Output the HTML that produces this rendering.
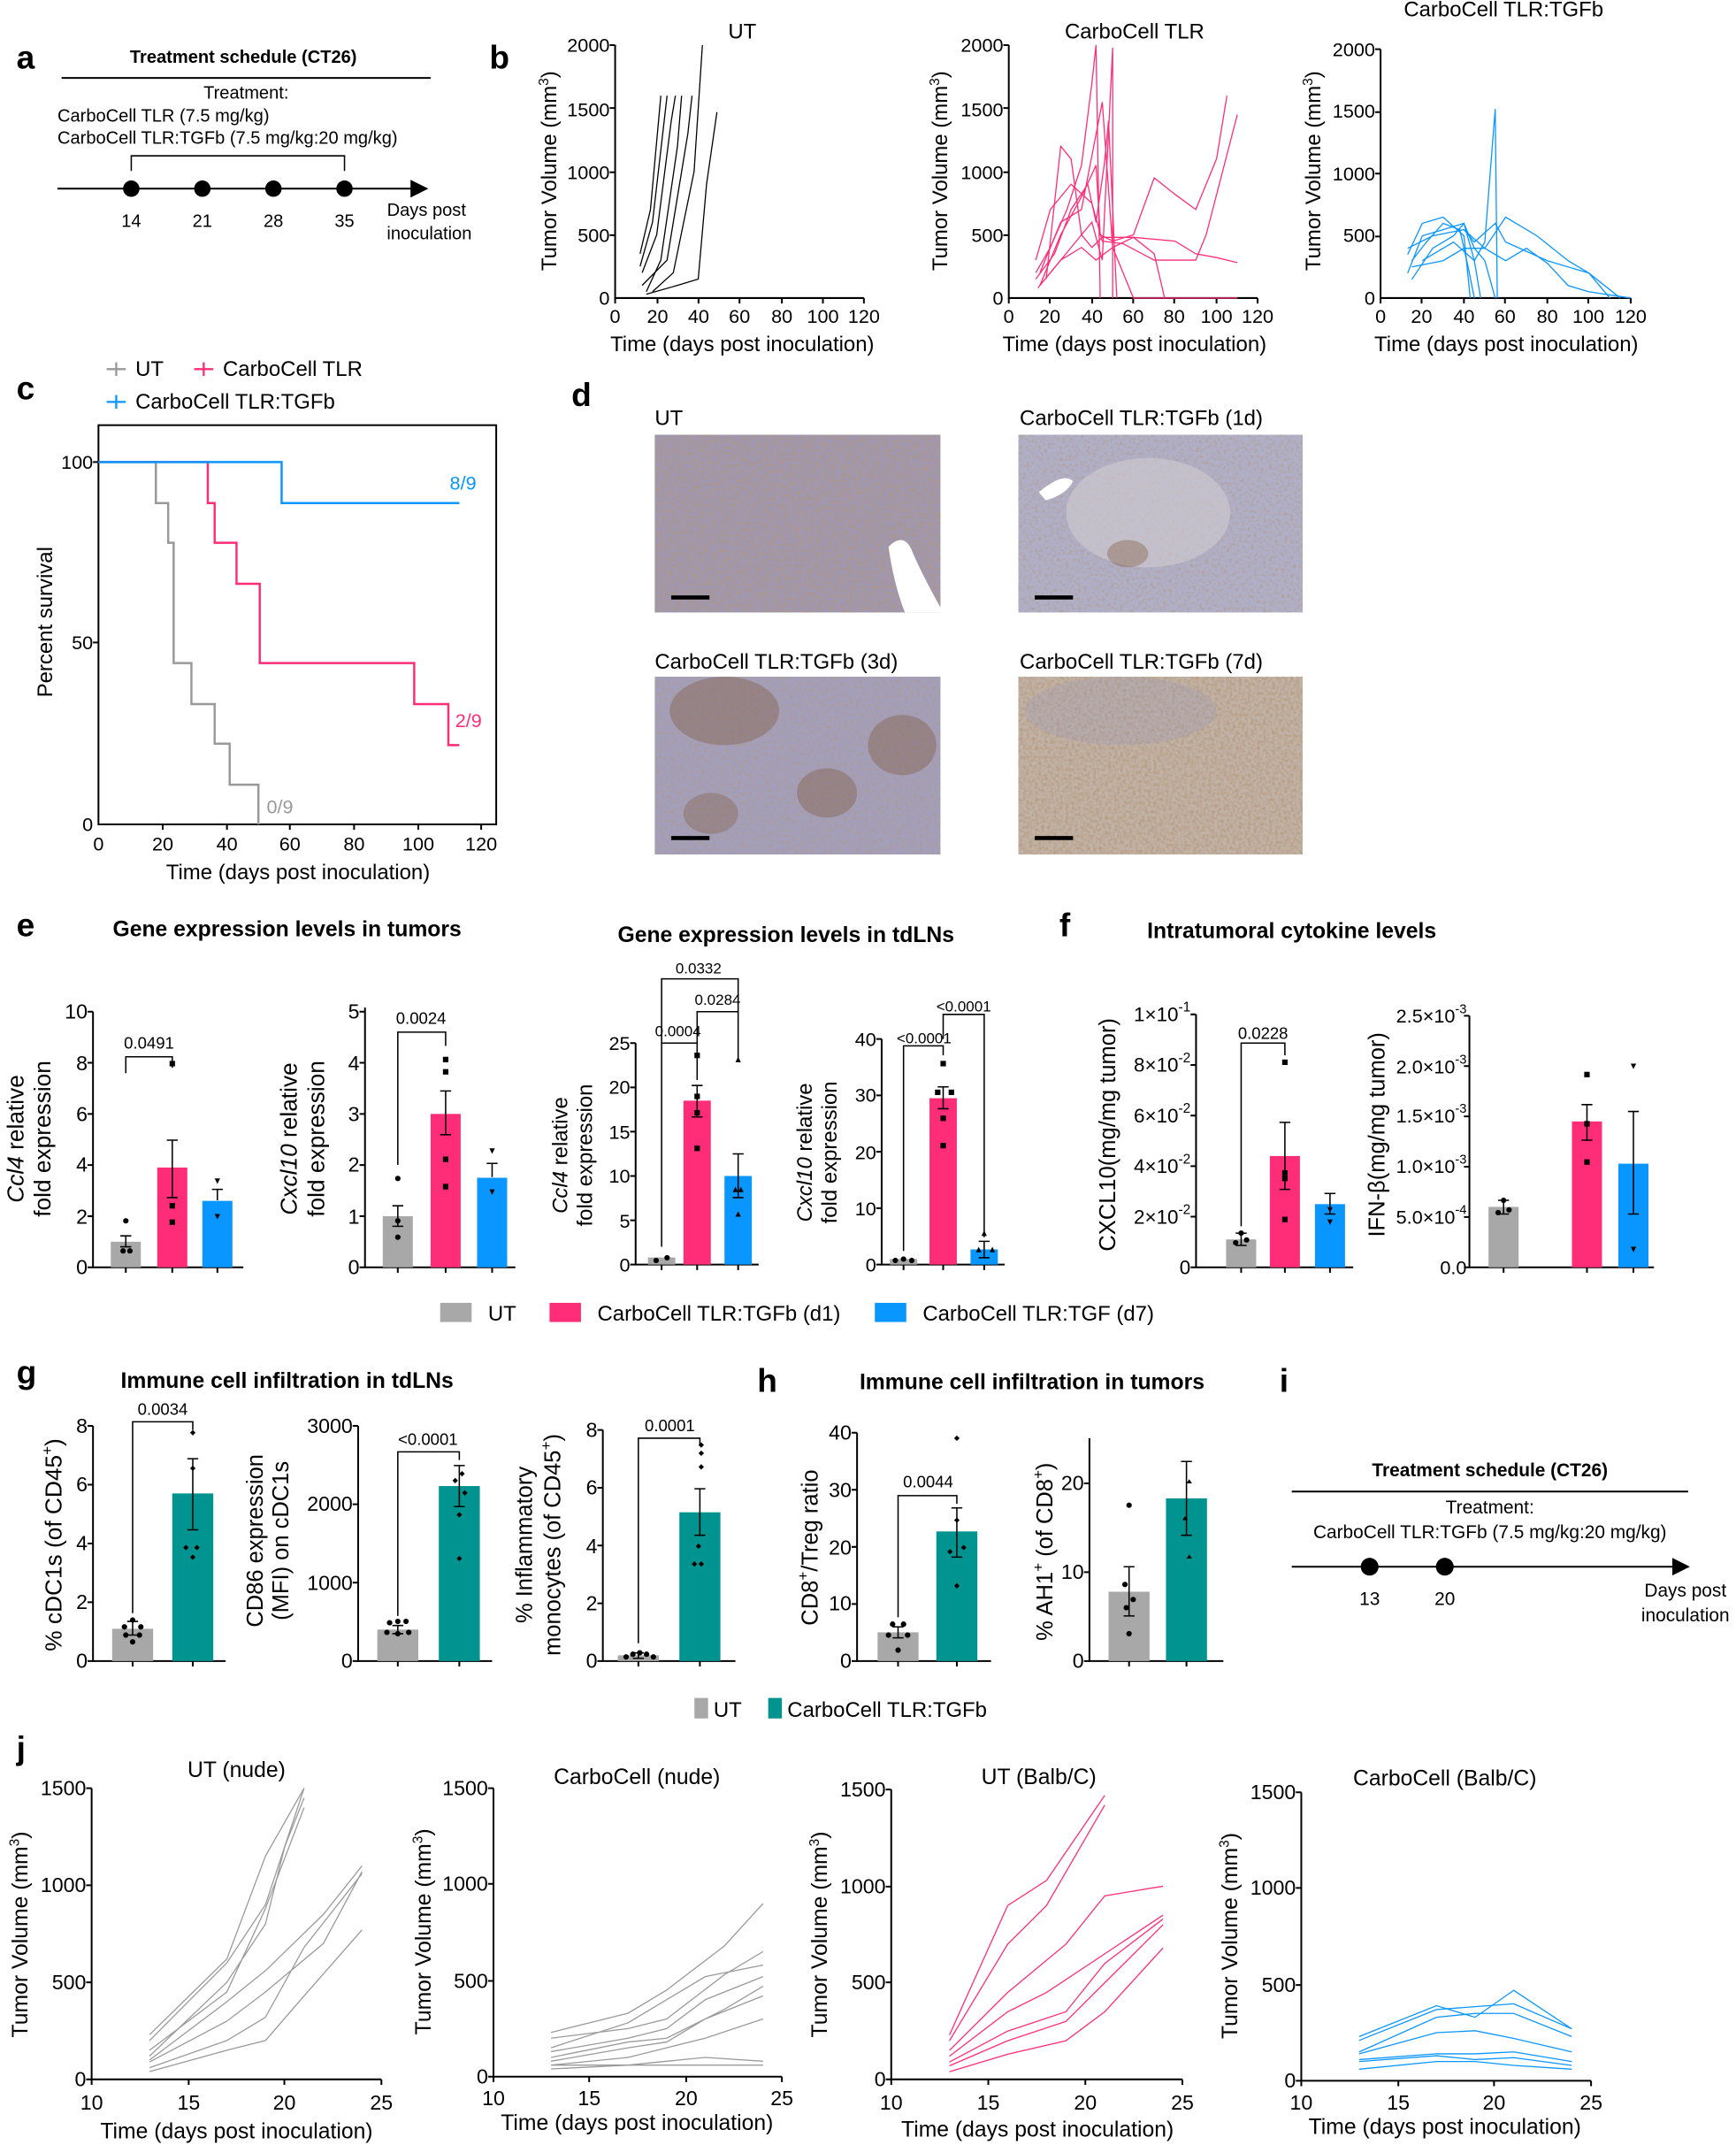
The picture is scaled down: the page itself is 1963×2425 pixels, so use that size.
<!DOCTYPE html>
<html><head><meta charset="utf-8"><style>
html,body{margin:0;padding:0;background:#fff}
svg{display:block}
text{font-family:"Liberation Sans",sans-serif;fill:#000}
.t{font-size:14px}.al{font-size:15.5px}.b{font-weight:bold}.L{font-size:24px;font-weight:bold}
.ax{stroke:#000;stroke-width:1.3;fill:none}
.nl{fill:none;vector-effect:non-scaling-stroke;stroke-width:1.3}
.br{stroke:#000;stroke-width:1;fill:none}
</style></head><body>
<svg width="1963" height="2425" viewBox="0 0 1270 1569" xmlns="http://www.w3.org/2000/svg">
<defs>
<marker id="ar" markerWidth="10" markerHeight="10" refX="9" refY="5" orient="auto"><path d="M0,0 L10,5 L0,10z" fill="#000"/></marker>
<filter id="tx" x="0" y="0" width="1" height="1"><feTurbulence type="fractalNoise" baseFrequency="0.45" numOctaves="3" seed="3"/><feColorMatrix values="0 0 0 0 0.45  0 0 0 0 0.3  0 0 0 0 0.18  1.6 0 0 0 -0.55"/><feComposite in2="SourceGraphic" operator="in"/></filter>
<filter id="tx2" x="0" y="0" width="1" height="1"><feTurbulence type="fractalNoise" baseFrequency="0.45" numOctaves="3" seed="7"/><feColorMatrix values="0 0 0 0 0.45  0 0 0 0 0.3  0 0 0 0 0.18  1.6 0 0 0 -0.75"/><feComposite in2="SourceGraphic" operator="in"/></filter>
</defs>

<!-- a -->
<text x="12" y="50" class="L">a</text>
<text x="178" y="46" class="b" font-size="13" text-anchor="middle">Treatment schedule (CT26)</text>
<line x1="45" y1="57" x2="315" y2="57" class="ax"/>
<text x="180" y="72" font-size="13" text-anchor="middle">Treatment:</text>
<text x="42" y="89" font-size="13">CarboCell TLR (7.5 mg/kg)</text>
<text x="42" y="105" font-size="13">CarboCell TLR:TGFb (7.5 mg/kg:20 mg/kg)</text>
<path d="M96,125 V114 H252 V125" class="br"/>
<line x1="42" y1="138" x2="312" y2="138" class="ax" marker-end="url(#ar)"/>
<circle cx="96" cy="138" r="6"/><circle cx="148" cy="138" r="6"/><circle cx="200" cy="138" r="6"/><circle cx="252" cy="138" r="6"/>
<g font-size="13" text-anchor="middle"><text x="96" y="166">14</text><text x="148" y="166">21</text><text x="200" y="166">28</text><text x="252" y="166">35</text>
<text x="312" y="158">Days post</text><text x="314" y="175">inoculation</text></g>

<!-- b -->
<text x="358" y="50" class="L">b</text>
<g class="t">
<path d="M450,33 V218 H632" class="ax"/>
<g text-anchor="end"><text x="446" y="223">0</text><text x="446" y="177">500</text><text x="446" y="131">1000</text><text x="446" y="85">1500</text><text x="446" y="38">2000</text></g>
<g text-anchor="middle"><text x="450" y="236">0</text><text x="481" y="236">20</text><text x="511" y="236">40</text><text x="541" y="236">60</text><text x="572" y="236">80</text><text x="602" y="236">100</text><text x="632" y="236">120</text></g>
<path d="M450,218v4M481,218v4M511,218v4M541,218v4M572,218v4M602,218v4M632,218v4M450,33h-4M450,79h-4M450,126h-4M450,172h-4" class="ax"/>
<path d="M738,33 V218 H920" class="ax"/>
<g text-anchor="end"><text x="734" y="223">0</text><text x="734" y="177">500</text><text x="734" y="131">1000</text><text x="734" y="85">1500</text><text x="734" y="38">2000</text></g>
<g text-anchor="middle"><text x="738" y="236">0</text><text x="768" y="236">20</text><text x="799" y="236">40</text><text x="829" y="236">60</text><text x="859" y="236">80</text><text x="890" y="236">100</text><text x="920" y="236">120</text></g>
<path d="M738,218v4M768,218v4M799,218v4M829,218v4M859,218v4M890,218v4M920,218v4M738,33h-4M738,79h-4M738,126h-4M738,172h-4" class="ax"/>
<path d="M1010,36 V218 H1193" class="ax"/>
<g text-anchor="end"><text x="1006" y="223">0</text><text x="1006" y="177">500</text><text x="1006" y="132">1000</text><text x="1006" y="86">1500</text><text x="1006" y="41">2000</text></g>
<g text-anchor="middle"><text x="1010" y="236">0</text><text x="1040" y="236">20</text><text x="1071" y="236">40</text><text x="1101" y="236">60</text><text x="1132" y="236">80</text><text x="1162" y="236">100</text><text x="1193" y="236">120</text></g>
<path d="M1010,218v4M1040,218v4M1071,218v4M1101,218v4M1132,218v4M1162,218v4M1193,218v4M1010,36h-4M1010,82h-4M1010,127h-4M1010,173h-4" class="ax"/>
</g>
<g class="al" text-anchor="middle">
<text x="543" y="28">UT</text><text x="830" y="28">CarboCell TLR</text><text x="1100" y="12">CarboCell TLR:TGFb</text>
<text x="543" y="257">Time (days post inoculation)</text><text x="830" y="257">Time (days post inoculation)</text><text x="1102" y="257">Time (days post inoculation)</text>
<text transform="translate(407,125) rotate(-90)">Tumor Volume (mm<tspan font-size="10" dy="-6">3</tspan><tspan dy="6">)</tspan></text>
<text transform="translate(693,125) rotate(-90)">Tumor Volume (mm<tspan font-size="10" dy="-6">3</tspan><tspan dy="6">)</tspan></text>
<text transform="translate(966,125) rotate(-90)">Tumor Volume (mm<tspan font-size="10" dy="-6">3</tspan><tspan dy="6">)</tspan></text>
</g>
<g transform="translate(450,218) scale(1.52,-0.0925)" stroke="#000">
<polyline class="nl" points="12,350 17,700 22,1600"/>
<polyline class="nl" points="12,250 18,600 25,1600"/>
<polyline class="nl" points="13,200 20,500 27,1400 29,1600"/>
<polyline class="nl" points="15,50 22,300 30,1200 32,1600"/>
<polyline class="nl" points="13,100 25,300 35,1300 37,1600"/>
<polyline class="nl" points="18,50 28,200 38,1000 42,2000"/>
<polyline class="nl" points="15,30 30,100 40,150 44,900 49,1470"/>
</g>
<g transform="translate(738,218) scale(1.52,-0.0925)" stroke="#ff2d78">
<polyline class="nl" points="13,200 20,400 28,700 35,1050 40,1700 42,2000 44,0"/>
<polyline class="nl" points="13,150 22,350 30,700 38,900 42,600 46,1060 48,1400 52,0"/>
<polyline class="nl" points="15,100 25,500 35,800 42,1050 44,500 50,450 60,500 70,950 80,820 90,700 100,1100 105,1600"/>
<polyline class="nl" points="15,200 25,600 35,700 45,1550 50,400 60,480 80,450 90,350 100,320 110,280"/>
<polyline class="nl" points="13,300 20,700 30,900 40,750 45,450 55,430 70,300 90,300 95,500 110,1450"/>
<polyline class="nl" points="15,100 30,400 40,600 45,300 50,1980 50,0"/>
<polyline class="nl" points="18,150 25,1200 30,1100 35,500 40,400 45,480 60,480 70,350 75,0"/>
<polyline class="nl" points="14,80 25,300 35,400 42,300 50,400 60,0 110,0"/>
</g>
<g transform="translate(1010,218) scale(1.525,-0.091)" stroke="#0a96ff">
<polyline class="nl" points="13,200 20,500 30,550 40,600 45,300 48,0"/>
<polyline class="nl" points="15,300 22,450 30,600 38,550 42,250 45,0"/>
<polyline class="nl" points="13,350 20,600 30,650 40,500 43,0"/>
<polyline class="nl" points="15,150 25,400 35,500 40,600 45,400 50,300 55,0"/>
<polyline class="nl" points="13,400 25,500 40,550 45,450 55,600 60,450 80,300 100,200 110,0"/>
<polyline class="nl" points="20,300 35,450 45,300 50,450 55,1520 56,0"/>
<polyline class="nl" points="15,250 30,300 40,400 50,400 60,300 70,400 80,280 90,100 100,50 120,0"/>
<polyline class="nl" points="40,550 50,400 60,650 75,500 90,300 100,200 115,0"/>
</g>

<!-- c -->
<text x="12" y="292" class="L">c</text>
<g class="al">
<path d="M78,270 h14 M85,265 v10" stroke="#999" stroke-width="1.5"/><text x="99" y="275">UT</text>
<path d="M142,270 h14 M149,265 v10" stroke="#ff2d78" stroke-width="1.5"/><text x="163" y="275">CarboCell TLR</text>
<path d="M78,294 h14 M85,289 v10" stroke="#0a96ff" stroke-width="1.5"/><text x="99" y="299">CarboCell TLR:TGFb</text>
</g>
<rect x="72" y="311" width="291" height="292" class="ax"/>
<g class="t" text-anchor="end"><text x="68" y="343">100</text><text x="68" y="475">50</text><text x="68" y="608">0</text></g>
<g class="t" text-anchor="middle"><text x="72" y="622">0</text><text x="119" y="622">20</text><text x="166" y="622">40</text><text x="212" y="622">60</text><text x="259" y="622">80</text><text x="306" y="622">100</text><text x="352" y="622">120</text></g>
<path d="M72,338h-4M72,470h-4M119,603v4M166,603v4M212,603v4M259,603v4M306,603v4M352,603v4" class="ax"/>
<text x="218" y="643" class="al" text-anchor="middle">Time (days post inoculation)</text>
<text transform="translate(38,455) rotate(-90)" class="al" text-anchor="middle">Percent survival</text>
<polyline fill="none" stroke="#999" stroke-width="1.6" points="72,338 114,338 114,368 123,368 123,397 127,397 127,485 140,485 140,515 157,515 157,544 168,544 168,574 189,574 189,603"/>
<polyline fill="none" stroke="#ff2d78" stroke-width="1.6" points="72,338 152,338 152,368 157,368 157,397 173,397 173,427 190,427 190,485 303,485 303,515 328,515 328,545 336,545"/>
<polyline fill="none" stroke="#0a96ff" stroke-width="1.6" points="72,338 206,338 206,368 336,368"/>
<text x="329" y="358" class="t" style="fill:#0a96ff">8/9</text>
<text x="333" y="532" class="t" style="fill:#ff2d78">2/9</text>
<text x="195" y="595" class="t" style="fill:#999">0/9</text>

<!-- d -->
<text x="418" y="297" class="L">d</text>
<g class="al"><text x="479" y="311">UT</text><text x="746" y="311">CarboCell TLR:TGFb (1d)</text><text x="479" y="489">CarboCell TLR:TGFb (3d)</text><text x="746" y="489">CarboCell TLR:TGFb (7d)</text></g>
<rect x="479" y="318" width="209" height="130" fill="#9e98b6"/><rect x="479" y="318" width="209" height="130" fill="#fff" filter="url(#tx)"/>
<path d="M650,400 q12,-12 18,5 q8,18 22,43 h-28 q-8,-20 -12,-48z" fill="#fff"/>
<rect x="745" y="318" width="208" height="130" fill="#b0afc8"/><rect x="745" y="318" width="208" height="130" fill="#fff" filter="url(#tx2)"/>
<ellipse cx="840" cy="375" rx="60" ry="40" fill="#d0cbd0" opacity="0.6"/><ellipse cx="825" cy="405" rx="15" ry="10" fill="#7a5030" opacity="0.35"/><path d="M760,360 q18,-15 25,-8 q-5,10 -20,14z" fill="#fff"/>
<rect x="479" y="495" width="209" height="130" fill="#a39fbb"/><rect x="479" y="495" width="209" height="130" fill="#fff" filter="url(#tx2)"/>
<ellipse cx="530" cy="520" rx="40" ry="25" fill="#7a5030" opacity="0.35"/><ellipse cx="605" cy="580" rx="22" ry="18" fill="#7a5030" opacity="0.35"/><ellipse cx="660" cy="545" rx="25" ry="22" fill="#7a5030" opacity="0.35"/><ellipse cx="520" cy="595" rx="20" ry="15" fill="#7a5030" opacity="0.3"/>
<rect x="745" y="495" width="208" height="130" fill="#c2b3a8"/><rect x="745" y="495" width="208" height="130" fill="#fff" filter="url(#tx)"/>
<ellipse cx="820" cy="520" rx="70" ry="25" fill="#9c9ab8" opacity="0.3"/>
<path d="M491,437h28M757,437h28M491,613h28M757,613h28" stroke="#000" stroke-width="3"/>

<!-- e -->
<text x="12" y="685" class="L">e</text>
<text x="210" y="685" class="b" font-size="16" text-anchor="middle">Gene expression levels in tumors</text>
<text x="575" y="689" class="b" font-size="16" text-anchor="middle">Gene expression levels in tdLNs</text>
<g class="t">
<path d="M68,740 V927 H178" class="ax"/>
<g text-anchor="end" font-size="15"><text x="64" y="932">0</text><text x="64" y="895">2</text><text x="64" y="857">4</text><text x="64" y="820">6</text><text x="64" y="783">8</text><text x="64" y="745">10</text></g>
<path d="M68,927h-4M68,889.6h-4M68,852.2h-4M68,814.8h-4M68,777.4h-4M68,740h-4M92,927v4M126,927v4M159,927v4" class="ax"/>
<rect x="81" y="908.3" width="22" height="18.7" fill="#a8a8a8"/><rect x="115" y="854" width="22" height="73" fill="#ff2d78"/><rect x="148" y="878.4" width="22" height="48.6" fill="#0a96ff"/>
<path d="M88,904h8M92,904v8M88,912h8M122,834h8M126,834v42M122,876h8M155,870h8M159,870v8" class="br"/>
<g><circle cx="90" cy="915" r="2"/><circle cx="95" cy="915" r="2"/><circle cx="92" cy="893" r="2"/><rect x="124" y="776" width="4" height="4"/><rect x="124" y="880" width="4" height="4"/><rect x="124" y="892" width="4" height="4"/><path d="M157,862l2,4l2,-4zM157,888l2,4l2,-4z"/></g>
<path d="M92,785 V773 H126 V781" class="br"/><text x="109" y="767" font-size="12" text-anchor="middle">0.0491</text>
<text transform="translate(17,833) rotate(-90)" text-anchor="middle" font-size="17"><tspan font-style="italic">Ccl4</tspan> relative</text>
<text transform="translate(37,833) rotate(-90)" text-anchor="middle" font-size="17">fold expression</text>
<path d="M267,737 V927 H377" class="ax"/>
<g text-anchor="end" font-size="15"><text x="263" y="932">0</text><text x="263" y="895">1</text><text x="263" y="857">2</text><text x="263" y="820">3</text><text x="263" y="783">4</text><text x="263" y="745">5</text></g>
<path d="M267,927h-4M267,889.6h-4M267,852.2h-4M267,814.8h-4M267,777.4h-4M267,740h-4M291,927v4M326,927v4M360,927v4" class="ax"/>
<rect x="280" y="889.6" width="22" height="37.4" fill="#a8a8a8"/><rect x="315" y="814.8" width="22" height="112.2" fill="#ff2d78"/><rect x="349" y="861.5" width="22" height="65.5" fill="#0a96ff"/>
<path d="M287,882h8M291,882v15M287,897h8M322,798h8M326,798v32M322,830h8M356,851h8M360,851v10" class="br"/>
<circle cx="291" cy="862" r="2"/><circle cx="291" cy="893" r="2"/><circle cx="291" cy="905" r="2"/><rect x="324" y="773" width="4" height="4"/><rect x="324" y="782" width="4" height="4"/><rect x="324" y="846" width="4" height="4"/><rect x="324" y="866" width="4" height="4"/><path d="M358,840l2,4l2,-4zM358,870l2,4l2,-4z"/>
<path d="M291,852 V755 H326 V765" class="br"/><text x="308" y="749" font-size="12" text-anchor="middle">0.0024</text>
<text transform="translate(217,833) rotate(-90)" text-anchor="middle" font-size="17"><tspan font-style="italic">Cxcl10</tspan> relative</text>
<text transform="translate(237,833) rotate(-90)" text-anchor="middle" font-size="17">fold expression</text>
<path d="M465,763 V925 H555" class="ax"/>
<g text-anchor="end"><text x="461" y="930">0</text><text x="461" y="898">5</text><text x="461" y="865">10</text><text x="461" y="833">15</text><text x="461" y="800">20</text><text x="461" y="768">25</text></g>
<path d="M465,925h-4M465,892.6h-4M465,860.2h-4M465,827.8h-4M465,795.4h-4M465,763h-4M484,925v4M510,925v4M540,925v4" class="ax"/>
<rect x="474" y="919.8" width="20" height="5.2" fill="#a8a8a8"/><rect x="500" y="805.1" width="20" height="119.9" fill="#ff2d78"/><rect x="530" y="860.2" width="20" height="64.8" fill="#0a96ff"/>
<path d="M506,794h8M510,794v23M506,817h8M536,844h8M540,844v32M536,876h8" class="br"/>
<rect x="508" y="770" width="4" height="4"/><rect x="508" y="800" width="4" height="4"/><rect x="508" y="812" width="4" height="4"/><rect x="508" y="838" width="4" height="4"/><path d="M538,777l2,-4l2,4zM536,872l2,-4l2,4zM540,872l2,-4l2,4zM538,890l2,-4l2,4z"/>
<circle cx="480" cy="922" r="2"/><circle cx="488" cy="920" r="2"/>
<path d="M484,912 V763 H510 V770 M510,790 V740 H540 V775 M484,763 V716 H540 V740" class="br"/>
<g font-size="11" text-anchor="middle"><text x="496" y="758">0.0004</text><text x="525" y="735">0.0284</text><text x="511" y="712">0.0332</text></g>
<text transform="translate(415,845) rotate(-90)" text-anchor="middle" font-size="15.5"><tspan font-style="italic">Ccl4</tspan> relative</text>
<text transform="translate(433,845) rotate(-90)" text-anchor="middle" font-size="15.5">fold expression</text>
<path d="M645,760 V925 H735" class="ax"/>
<g text-anchor="end"><text x="641" y="930">0</text><text x="641" y="889">10</text><text x="641" y="848">20</text><text x="641" y="806">30</text><text x="641" y="765">40</text></g>
<path d="M645,925h-4M645,883.75h-4M645,842.5h-4M645,801.25h-4M645,760h-4M661,925v4M690,925v4M720,925v4" class="ax"/>
<rect x="651" y="920.9" width="20" height="4.1" fill="#a8a8a8"/><rect x="680" y="803.3" width="20" height="121.7" fill="#ff2d78"/><rect x="710" y="913.9" width="20" height="11.1" fill="#0a96ff"/>
<path d="M686,795h8M690,795v16M686,811h8M716,908h8M720,908v12M716,920h8" class="br"/>
<circle cx="655" cy="922" r="2"/><circle cx="661" cy="921" r="2"/><circle cx="667" cy="922" r="2"/><rect x="688" y="776" width="4" height="4"/><rect x="684" y="797" width="4" height="4"/><rect x="694" y="797" width="4" height="4"/><rect x="688" y="816" width="4" height="4"/><rect x="688" y="836" width="4" height="4"/><path d="M718,904l2,-4l2,4zM714,916l2,-4l2,4zM724,916l2,-4l2,4z"/>
<path d="M661,915 V765 H690 V772 M690,760 V742 H720 V905" class="br"/>
<g font-size="11" text-anchor="middle"><text x="676" y="763">&lt;0.0001</text><text x="705" y="740">&lt;0.0001</text></g>
<text transform="translate(594,843) rotate(-90)" text-anchor="middle" font-size="15.5"><tspan font-style="italic">Cxcl10</tspan> relative</text>
<text transform="translate(612,843) rotate(-90)" text-anchor="middle" font-size="15.5">fold expression</text>
</g>

<!-- f -->
<text x="775" y="685" class="L">f</text>
<text x="945" y="686" class="b" font-size="16" text-anchor="middle">Intratumoral cytokine levels</text>
<g class="t">
<path d="M875,742 V927 H990" class="ax"/>
<g text-anchor="end" font-size="14.5"><text x="871" y="932">0</text>
<text x="871" y="895">2×10<tspan font-size="10" dy="-7">-2</tspan></text>
<text x="871" y="858">4×10<tspan font-size="10" dy="-7">-2</tspan></text>
<text x="871" y="821">6×10<tspan font-size="10" dy="-7">-2</tspan></text>
<text x="871" y="784">8×10<tspan font-size="10" dy="-7">-2</tspan></text>
<text x="871" y="747">1×10<tspan font-size="10" dy="-7">-1</tspan></text></g>
<path d="M875,927h-4M875,890h-4M875,853h-4M875,816h-4M875,779h-4M875,742h-4M908,927v4M940,927v4M973,927v4" class="ax"/>
<rect x="897" y="906.6" width="22" height="20.4" fill="#a8a8a8"/><rect x="929" y="845.6" width="22" height="81.4" fill="#ff2d78"/><rect x="962" y="880.8" width="22" height="46.2" fill="#0a96ff"/>
<path d="M904,902h8M908,902v9M904,911h8M936,821h8M940,821v49M936,870h8M969,873h8M973,873v15M969,888h8" class="br"/>
<circle cx="908" cy="902" r="2"/><circle cx="904" cy="909" r="2"/><circle cx="912" cy="907" r="2"/><rect x="938" y="775" width="4" height="4"/><rect x="938" y="856" width="4" height="4"/><rect x="938" y="890" width="4" height="4"/><rect x="938" y="860" width="4" height="4"/><path d="M971,883l2,4l2,-4zM971,892l2,4l2,-4z"/>
<path d="M908,897 V763 H940 V772" class="br"/><text x="924" y="760" font-size="12" text-anchor="middle">0.0228</text>
<text transform="translate(816,830) rotate(-90)" text-anchor="middle" font-size="16.5">CXCL10(mg/mg tumor)</text>
<path d="M1075,743 V927 H1210" class="ax"/>
<g text-anchor="end" font-size="14"><text x="1073" y="932">0.0</text>
<text x="1073" y="895">5.0×10<tspan font-size="9.5" dy="-7">-4</tspan></text>
<text x="1073" y="858">1.0×10<tspan font-size="9.5" dy="-7">-3</tspan></text>
<text x="1073" y="821">1.5×10<tspan font-size="9.5" dy="-7">-3</tspan></text>
<text x="1073" y="785">2.0×10<tspan font-size="9.5" dy="-7">-3</tspan></text>
<text x="1073" y="748">2.5×10<tspan font-size="9.5" dy="-7">-3</tspan></text></g>
<path d="M1075,927h-4M1075,890.2h-4M1075,853.4h-4M1075,816.6h-4M1075,779.8h-4M1075,743h-4M1100,927v4M1161,927v4M1195,927v4" class="ax"/>
<rect x="1089" y="882.8" width="22" height="44.2" fill="#a8a8a8"/><rect x="1150" y="820.3" width="22" height="106.7" fill="#ff2d78"/><rect x="1184" y="851.2" width="22" height="75.8" fill="#0a96ff"/>
<path d="M1096,878h8M1100,878v10M1096,888h8M1157,808h8M1161,808v26M1157,834h8M1191,813h8M1195,813v75M1191,888h8" class="br"/>
<circle cx="1100" cy="878" r="2"/><circle cx="1096" cy="887" r="2"/><circle cx="1104" cy="885" r="2"/><rect x="1159" y="784" width="4" height="4"/><rect x="1159" y="820" width="4" height="4"/><rect x="1159" y="848" width="4" height="4"/><path d="M1193,778l2,4l2,-4zM1193,912l2,4l2,-4z"/>
<text transform="translate(1013,830) rotate(-90)" text-anchor="middle" font-size="16.5">IFN-β(mg/mg tumor)</text>
</g>
<g class="al"><rect x="322" y="953" width="23" height="14" fill="#a8a8a8"/><text x="357" y="966">UT</text>
<rect x="402" y="953" width="23" height="14" fill="#ff2d78"/><text x="437" y="966">CarboCell TLR:TGFb (d1)</text>
<rect x="640" y="953" width="23" height="14" fill="#0a96ff"/><text x="675" y="966">CarboCell TLR:TGF (d7)</text></g>

<!-- g -->
<text x="12" y="1012" class="L">g</text>
<text x="210" y="1015" class="b" font-size="16" text-anchor="middle">Immune cell infiltration in tdLNs</text>
<g class="t">
<path d="M68,1043 V1215 H165" class="ax"/>
<g text-anchor="end" font-size="15"><text x="64" y="1220">0</text><text x="64" y="1177">2</text><text x="64" y="1134">4</text><text x="64" y="1091">6</text><text x="64" y="1048">8</text></g>
<path d="M68,1215h-4M68,1172h-4M68,1129h-4M68,1086h-4M68,1043h-4M97,1215v4M141,1215v4" class="ax"/>
<rect x="82" y="1191.4" width="30" height="23.6" fill="#a8a8a8"/><rect x="126" y="1092.4" width="30" height="122.6" fill="#00938f"/>
<path d="M93,1186h8M97,1186v10M93,1196h8M137,1067h8M141,1067v52M137,1119h8" class="br"/>
<circle cx="97" cy="1185" r="2"/><circle cx="91" cy="1190" r="2"/><circle cx="103" cy="1190" r="2"/><circle cx="92" cy="1196" r="2"/><circle cx="102" cy="1196" r="2"/><circle cx="97" cy="1201" r="2"/><path d="M141,1046l2,2l-2,2l-2,-2zM141,1072l2,2l-2,2l-2,-2zM136,1130l2,2l-2,2l-2,-2zM144,1130l2,2l-2,2l-2,-2zM141,1137l2,2l-2,2l-2,-2z"/>
<path d="M97,1180 V1040 H141 V1046" class="br"/><text x="119" y="1035" font-size="12" text-anchor="middle">0.0034</text>
<text transform="translate(45,1130) rotate(-90)" text-anchor="middle" font-size="17">% cDC1s (of CD45<tspan font-size="11" dy="-7">+</tspan><tspan dy="7">)</tspan></text>
<path d="M262,1043 V1215 H360" class="ax"/>
<g text-anchor="end" font-size="15"><text x="258" y="1220">0</text><text x="258" y="1163">1000</text><text x="258" y="1105">2000</text><text x="258" y="1048">3000</text></g>
<path d="M262,1215h-4M262,1157.7h-4M262,1100.3h-4M262,1043h-4M291,1215v4M336,1215v4" class="ax"/>
<rect x="276" y="1192" width="30" height="23" fill="#a8a8a8"/><rect x="321" y="1087" width="30" height="128" fill="#00938f"/>
<path d="M287,1189h8M291,1189v6M287,1195h8M332,1072h8M336,1072v30M332,1102h8" class="br"/>
<circle cx="285" cy="1187" r="2"/><circle cx="291" cy="1186" r="2"/><circle cx="297" cy="1186" r="2"/><circle cx="283" cy="1194" r="2"/><circle cx="291" cy="1195" r="2"/><circle cx="299" cy="1194" r="2"/><path d="M333,1081l2,2l-2,2l-2,-2zM338,1076l2,2l-2,2l-2,-2zM340,1090l2,2l-2,2l-2,-2zM336,1106l2,2l-2,2l-2,-2zM336,1138l2,2l-2,2l-2,-2z"/>
<path d="M291,1182 V1062 H336 V1068" class="br"/><text x="313" y="1057" font-size="12" text-anchor="middle">&lt;0.0001</text>
<text transform="translate(192,1127) rotate(-90)" text-anchor="middle" font-size="16.5">CD86 expression</text>
<text transform="translate(211,1127) rotate(-90)" text-anchor="middle" font-size="16.5">(MFI) on cDC1s</text>
<path d="M441,1046 V1215 H538" class="ax"/>
<g text-anchor="end" font-size="15"><text x="437" y="1220">0</text><text x="437" y="1178">2</text><text x="437" y="1136">4</text><text x="437" y="1093">6</text><text x="437" y="1051">8</text></g>
<path d="M441,1215h-4M441,1172.75h-4M441,1130.5h-4M441,1088.25h-4M441,1046h-4M467,1215v4M512,1215v4" class="ax"/>
<rect x="452" y="1210.8" width="30" height="4.2" fill="#a8a8a8"/><rect x="497" y="1106.2" width="30" height="108.8" fill="#00938f"/>
<path d="M463,1209h8M467,1209v4M463,1213h8M508,1089h8M512,1089v34M508,1123h8" class="br"/>
<circle cx="458" cy="1212" r="2"/><circle cx="463" cy="1210" r="2"/><circle cx="468" cy="1209" r="2"/><circle cx="473" cy="1210" r="2"/><circle cx="478" cy="1212" r="2"/><path d="M513,1055l2,2l-2,2l-2,-2zM513,1061l2,2l-2,2l-2,-2zM513,1071l2,2l-2,2l-2,-2zM508,1142l2,2l-2,2l-2,-2zM513,1142l2,2l-2,2l-2,-2zM511,1129l2,2l-2,2l-2,-2z"/>
<path d="M467,1202 V1052 H512 V1057" class="br"/><text x="490" y="1047" font-size="12" text-anchor="middle">0.0001</text>
<text transform="translate(389,1130) rotate(-90)" text-anchor="middle" font-size="16.5">% Inflammatory</text>
<text transform="translate(410,1130) rotate(-90)" text-anchor="middle" font-size="16.5">monocytes (of CD45<tspan font-size="11" dy="-7">+</tspan><tspan dy="7">)</tspan></text>
</g>

<!-- h -->
<text x="554" y="1018" class="L">h</text>
<text x="755" y="1016" class="b" font-size="16" text-anchor="middle">Immune cell infiltration in tumors</text>
<g class="t">
<path d="M627,1048 V1215 H725" class="ax"/>
<g text-anchor="end" font-size="15"><text x="623" y="1220">0</text><text x="623" y="1178">10</text><text x="623" y="1137">20</text><text x="623" y="1095">30</text><text x="623" y="1053">40</text></g>
<path d="M627,1215h-4M627,1173.25h-4M627,1131.5h-4M627,1089.75h-4M627,1048h-4M657,1215v4M700,1215v4" class="ax"/>
<rect x="642" y="1194" width="30" height="21" fill="#a8a8a8"/><rect x="685" y="1120.2" width="30" height="94.8" fill="#00938f"/>
<path d="M653,1190h8M657,1190v8M653,1198h8M696,1103h8M700,1103v36M696,1139h8" class="br"/>
<circle cx="653" cy="1188" r="2"/><circle cx="661" cy="1188" r="2"/><circle cx="650" cy="1196" r="2"/><circle cx="664" cy="1196" r="2"/><circle cx="657" cy="1207" r="2"/><path d="M700,1050l2,2l-2,2l-2,-2zM700,1110l2,2l-2,2l-2,-2zM695,1133l2,2l-2,2l-2,-2zM705,1130l2,2l-2,2l-2,-2zM700,1158l2,2l-2,2l-2,-2z"/>
<path d="M657,1183 V1094 H700 V1100" class="br"/><text x="679" y="1088" font-size="12" text-anchor="middle">0.0044</text>
<text transform="translate(598,1132) rotate(-90)" text-anchor="middle" font-size="16.5">CD8<tspan font-size="11" dy="-7">+</tspan><tspan dy="7">/Treg ratio</tspan></text>
<path d="M797,1052 V1215 H895" class="ax"/>
<g text-anchor="end" font-size="15"><text x="793" y="1220">0</text><text x="793" y="1155">10</text><text x="793" y="1090">20</text></g>
<path d="M797,1215h-4M797,1150h-4M797,1085h-4M826,1215v4M868,1215v4" class="ax"/>
<rect x="811" y="1164.3" width="30" height="50.7" fill="#a8a8a8"/><rect x="853" y="1096" width="30" height="119" fill="#00938f"/>
<path d="M822,1146h8M826,1146v36M822,1182h8M864,1069h8M868,1069v54M864,1123h8" class="br"/>
<circle cx="826" cy="1101" r="2"/><circle cx="823" cy="1159" r="2"/><circle cx="829" cy="1170" r="2"/><circle cx="824" cy="1176" r="2"/><circle cx="826" cy="1195" r="2"/><path d="M868,1085l2,-3l2,3zM865,1112l2,-3l2,3zM868,1140l2,-3l2,3z"/>
<text transform="translate(770,1135) rotate(-90)" text-anchor="middle" font-size="16.5">% AH1<tspan font-size="11" dy="-7">+</tspan><tspan dy="7"> (of CD8</tspan><tspan font-size="11" dy="-7">+</tspan><tspan dy="7">)</tspan></text>
</g>

<!-- i -->
<text x="936" y="1018" class="L">i</text>
<text x="1090" y="1080" class="b" font-size="13.5" text-anchor="middle">Treatment schedule (CT26)</text>
<line x1="945" y1="1091" x2="1235" y2="1091" class="ax"/>
<text x="1090" y="1107" font-size="13.5" text-anchor="middle">Treatment:</text>
<text x="1090" y="1125" font-size="13.5" text-anchor="middle">CarboCell TLR:TGFb (7.5 mg/kg:20 mg/kg)</text>
<line x1="945" y1="1146" x2="1235" y2="1146" class="ax" marker-end="url(#ar)"/>
<circle cx="1002" cy="1146" r="6.5"/><circle cx="1057" cy="1146" r="6.5"/>
<g font-size="13.5" text-anchor="middle"><text x="1002" y="1174">13</text><text x="1057" y="1174">20</text><text x="1233" y="1168">Days post</text><text x="1233" y="1186">inoculation</text></g>
<g class="al"><rect x="508" y="1242" width="10" height="15" fill="#a8a8a8"/><text x="522" y="1256">UT</text><rect x="562" y="1242" width="10" height="15" fill="#00938f"/><text x="576" y="1256">CarboCell TLR:TGFb</text></g>

<!-- j -->
<text x="12" y="1287" class="L">j</text>
<g class="t">
<path d="M67,1308 V1521 H279" class="ax"/>
<g text-anchor="end" font-size="15"><text x="63" y="1526">0</text><text x="63" y="1455">500</text><text x="63" y="1384">1000</text><text x="63" y="1313">1500</text></g>
<g text-anchor="middle" font-size="15"><text x="67" y="1543">10</text><text x="138" y="1543">15</text><text x="208" y="1543">20</text><text x="279" y="1543">25</text></g>
<path d="M67,1521h-4M67,1450h-4M67,1379h-4M67,1308h-4M67,1521v4M138,1521v4M208,1521v4M279,1521v4" class="ax"/>
<path d="M361,1308 V1519 H572" class="ax"/>
<g text-anchor="end" font-size="15"><text x="357" y="1524">0</text><text x="357" y="1454">500</text><text x="357" y="1383">1000</text><text x="357" y="1313">1500</text></g>
<g text-anchor="middle" font-size="15"><text x="361" y="1540">10</text><text x="431" y="1540">15</text><text x="502" y="1540">20</text><text x="572" y="1540">25</text></g>
<path d="M361,1519h-4M361,1449h-4M361,1378h-4M361,1308h-4M361,1519v4M431,1519v4M502,1519v4M572,1519v4" class="ax"/>
<path d="M652,1309 V1521 H865" class="ax"/>
<g text-anchor="end" font-size="15"><text x="648" y="1526">0</text><text x="648" y="1455">500</text><text x="648" y="1385">1000</text><text x="648" y="1314">1500</text></g>
<g text-anchor="middle" font-size="15"><text x="652" y="1543">10</text><text x="723" y="1543">15</text><text x="794" y="1543">20</text><text x="865" y="1543">25</text></g>
<path d="M652,1521h-4M652,1450h-4M652,1380h-4M652,1309h-4M652,1521v4M723,1521v4M794,1521v4M865,1521v4" class="ax"/>
<path d="M952,1311 V1522 H1164" class="ax"/>
<g text-anchor="end" font-size="15"><text x="948" y="1527">0</text><text x="948" y="1457">500</text><text x="948" y="1386">1000</text><text x="948" y="1316">1500</text></g>
<g text-anchor="middle" font-size="15"><text x="952" y="1543">10</text><text x="1023" y="1543">15</text><text x="1093" y="1543">20</text><text x="1164" y="1543">25</text></g>
<path d="M952,1522h-4M952,1452h-4M952,1381h-4M952,1311h-4M952,1522v4M1023,1522v4M1093,1522v4M1164,1522v4" class="ax"/>
</g>
<g text-anchor="middle" font-size="16">
<text x="173" y="1300">UT (nude)</text><text x="466" y="1305">CarboCell (nude)</text><text x="760" y="1305">UT (Balb/C)</text><text x="1057" y="1306">CarboCell (Balb/C)</text>
<text x="173" y="1564">Time (days post inoculation)</text><text x="466" y="1558">Time (days post inoculation)</text><text x="759" y="1563">Time (days post inoculation)</text><text x="1057" y="1561">Time (days post inoculation)</text>
<text transform="translate(20,1415) rotate(-90)">Tumor Volume (mm<tspan font-size="10" dy="-6">3</tspan><tspan dy="6">)</tspan></text>
<text transform="translate(315,1413) rotate(-90)">Tumor Volume (mm<tspan font-size="10" dy="-6">3</tspan><tspan dy="6">)</tspan></text>
<text transform="translate(605,1415) rotate(-90)">Tumor Volume (mm<tspan font-size="10" dy="-6">3</tspan><tspan dy="6">)</tspan></text>
<text transform="translate(905,1416) rotate(-90)">Tumor Volume (mm<tspan font-size="10" dy="-6">3</tspan><tspan dy="6">)</tspan></text>
</g>
<g transform="translate(-74.3,1521) scale(14.13,-0.142)" stroke="#9a9a9a">
<polyline class="nl" points="13,230 17,620 19,1150 21,1500"/>
<polyline class="nl" points="13,200 17,600 19,900 21,1500"/>
<polyline class="nl" points="13,150 17,450 19,880 21,1400"/>
<polyline class="nl" points="13,120 17,500 19,800 20,1200 21,1450"/>
<polyline class="nl" points="13,100 17,400 19,560 22,850 24,1100"/>
<polyline class="nl" points="13,90 17,300 19,450 22,700 24,1070"/>
<polyline class="nl" points="13,60 17,200 19,320 21,680 24,1060"/>
<polyline class="nl" points="13,40 17,150 19,200 21,430 24,770"/>
</g>
<g transform="translate(219.8,1519) scale(14.1,-0.1407)" stroke="#9a9a9a">
<polyline class="nl" points="13,230 17,330 19,450 22,680 24,900"/>
<polyline class="nl" points="13,200 17,250 19,300 22,530 24,650"/>
<polyline class="nl" points="13,150 17,280 19,400 21,520 24,580"/>
<polyline class="nl" points="13,130 17,200 19,250 21,400 24,520"/>
<polyline class="nl" points="13,100 17,180 19,200 22,350 24,470"/>
<polyline class="nl" points="13,80 17,150 19,180 21,300 24,420"/>
<polyline class="nl" points="13,60 17,100 19,150 21,200 24,300"/>
<polyline class="nl" points="13,40 17,60 19,80 21,100 24,80"/>
<polyline class="nl" points="13,60 17,60 19,60 22,60 24,60"/>
</g>
<g transform="translate(510,1521) scale(14.2,-0.1413)" stroke="#ff2d78">
<polyline class="nl" points="13,230 16,900 18,1030 21,1470"/>
<polyline class="nl" points="13,200 16,700 18,900 21,1420"/>
<polyline class="nl" points="13,150 16,450 19,700 21,950 24,1000"/>
<polyline class="nl" points="13,120 16,350 18,450 21,650 24,850"/>
<polyline class="nl" points="13,90 16,250 19,350 21,600 24,830"/>
<polyline class="nl" points="13,70 16,200 19,300 21,500 24,800"/>
<polyline class="nl" points="13,40 16,130 19,200 21,350 24,680"/>
</g>
<g transform="translate(810.7,1522) scale(14.13,-0.1407)" stroke="#0a96ff">
<polyline class="nl" points="13,230 17,390 19,330 21,470 24,270"/>
<polyline class="nl" points="13,210 17,370 21,400 24,270"/>
<polyline class="nl" points="13,150 17,330 19,350 21,350 24,230"/>
<polyline class="nl" points="13,140 17,250 19,260 21,220 24,150"/>
<polyline class="nl" points="13,110 17,140 19,140 21,150 24,100"/>
<polyline class="nl" points="13,100 17,130 19,110 21,120 24,80"/>
<polyline class="nl" points="13,60 17,100 19,100 21,80 24,60"/>
</g>
</svg>
</body></html>
